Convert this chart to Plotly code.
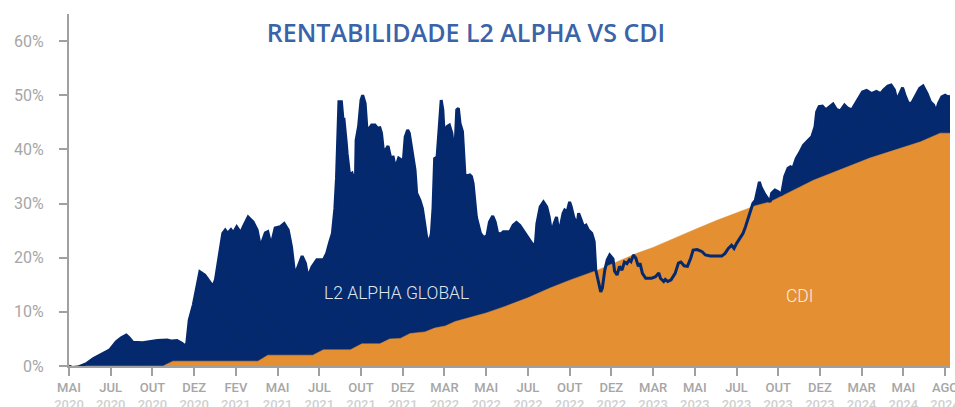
import plotly.graph_objects as go

# Business-day index (x) and accumulated return in % (y)
l2_dia = [0, 4, 11, 22, 30, 38, 50, 58, 64, 70, 73, 78, 90, 108, 120, 126, 132, 138, 142, 144, 147, 152, 159, 160,
          166, 174, 176, 179, 188, 191, 194, 198, 201, 205, 210, 213, 219, 225, 230, 234, 240, 243, 247, 252, 258,
          263, 268, 272, 276, 280, 285, 289, 292, 297, 303, 311, 315, 319, 322, 325, 327, 330, 333, 335, 336, 339,
          340, 343, 346, 348, 350, 351, 354, 357, 359, 362, 364, 366, 370, 374, 377, 380, 382, 384, 386, 390, 393,
          395, 396, 399, 403, 406, 408, 411, 414, 416, 419, 423, 425, 429, 432, 437, 440, 443, 445, 447, 450, 453,
          455, 457, 459, 462, 465, 468, 470, 472, 474, 476, 478, 481, 484, 486, 490, 492, 494, 496, 498, 503, 507,
          511, 514, 518, 521, 524, 528, 531, 539, 543, 547, 551, 555, 562, 566, 570, 572, 576, 580, 584, 587, 590,
          593, 596, 599, 604, 606, 609, 612, 614, 617, 621, 623, 626, 629, 632, 635, 639, 642, 644, 647, 650, 652,
          655, 658, 661, 665, 667, 670, 673, 676, 679, 682, 685, 687, 690, 693, 696, 698, 701, 705, 712, 717, 721,
          723, 727, 729, 732, 736, 741, 745, 748, 752, 756, 760, 763, 768, 774, 778, 784, 792, 798, 802, 806, 810,
          813, 816, 820, 824, 827, 829, 833, 836, 839, 841, 844, 846, 851, 857, 859, 863, 867, 871, 873, 875, 879,
          882, 885, 889, 894, 898, 904, 908, 912, 914, 917, 921, 925, 930, 934, 938, 943, 948, 952, 957, 962, 966,
          970, 975, 981, 987, 992, 996, 1001, 1005, 1009, 1012, 1016, 1019, 1022, 1026, 1030, 1034, 1040, 1044,
          1049, 1053, 1057, 1060, 1063, 1067, 1071, 1074, 1077]
l2_ret = [0, -0.3, -0.2, 0.5, 1.4, 2.0, 3.0, 4.5, 5.2, 5.7, 5.3, 4.4, 4.3, 4.7, 4.8, 4.6, 4.7, 4.2, 3.7, 4.2, 8.5,
          11.3, 16.8, 17.4, 16.8, 15.0, 14.7, 15.9, 24.5, 25.1, 24.5, 25.2, 24.6, 25.7, 24.6, 25.7, 27.5, 26.6, 25.1,
          22.0, 24.6, 24.8, 22.3, 25.5, 25.7, 26.3, 25.1, 22.0, 16.8, 18.3, 20.3, 19.0, 16.4, 18.3, 19.6, 19.6, 20.8,
          23.0, 24.5, 29.0, 34.6, 48.8, 48.8, 45.4, 45.8, 41.1, 39.2, 35.3, 35.6, 34.6, 32.5, 41.7, 44.2, 49.1, 50.0,
          48.5, 44.2, 43.6, 44.5, 44.5, 43.9, 44.0, 43.0, 40.2, 39.6, 40.6, 38.6, 36.2, 38.8, 36.5, 38.4, 38.1, 36.5,
          42.3, 43.6, 43.0, 40.2, 36.2, 31.9, 30.6, 29.1, 24.0, 22.5, 24.5, 29.1, 38.3, 38.6, 46.0, 49.1, 47.3, 41.7,
          44.2, 44.5, 43.0, 40.5, 40.5, 47.3, 47.6, 44.8, 43.3, 35.3, 35.1, 35.3, 35.0, 33.7, 30.6, 27.5, 24.5, 23.7,
          24.1, 26.6, 27.7, 26.6, 24.5, 24.4, 24.8, 24.8, 26.0, 26.5, 26.0, 25.1, 23.6, 22.6, 22.3, 26.3, 29.4, 30.3,
          29.4, 27.5, 24.5, 26.3, 27.5, 24.5, 28.2, 28.8, 28.5, 30.3, 29.4, 27.5, 26.0, 28.2, 27.0, 25.7, 26.0, 25.1,
          24.5, 23.0, 17.7, 15.9, 13.7, 14.4, 17.7, 19.6, 20.5, 19.8, 17.5, 16.8, 18.4, 17.7, 19.2, 18.9, 19.6, 19.3,
          20.5, 19.9, 18.4, 19.0, 17.1, 16.2, 16.2, 16.5, 17.2, 16.2, 15.6, 16.0, 15.6, 15.9, 17.1, 19.0, 19.2, 18.5,
          18.4, 19.9, 21.4, 21.5, 21.1, 20.5, 20.3, 20.3, 20.3, 20.8, 21.7, 22.3, 21.7, 22.6, 23.6, 24.5, 25.7, 26.6,
          28.8, 30.0, 30.6, 32.0, 34.0, 33.0, 31.6, 30.3, 31.9, 32.5, 32.2, 31.6, 33.1, 35.0, 36.5, 36.8, 36.5, 38.3,
          39.6, 40.8, 41.7, 42.3, 44.2, 46.9, 47.9, 48.0, 47.3, 47.9, 48.4, 47.4, 47.1, 48.2, 47.6, 47.3, 48.5, 49.4,
          50.6, 50.9, 50.3, 50.7, 50.3, 51.0, 51.7, 51.9, 51.0, 49.1, 50.3, 51.4, 50.0, 48.5, 48.5, 49.7, 51.3, 51.7,
          50.3, 48.8, 48.2, 47.0, 48.5, 49.7, 50.0, 49.7, 49.8]

cdi_dia = [0, 115, 127, 231, 243, 298, 311, 344, 358, 380, 392, 405, 417, 435, 447, 460, 472, 484, 510, 533, 561,
           588, 613, 646, 674, 694, 714, 735, 765, 792, 817, 839, 857, 910, 979, 1041, 1065, 1077]
cdi_ret = [0, 0, 0.9, 0.9, 2.0, 2.0, 3.0, 3.0, 4.1, 4.1, 5.0, 5.1, 6.0, 6.3, 7.0, 7.4, 8.2, 8.7, 9.8, 11.0, 12.6,
           14.4, 15.9, 17.7, 19.5, 20.8, 21.9, 23.3, 25.2, 26.9, 28.4, 29.6, 30.3, 34.3, 38.4, 41.4, 43.0, 43.0]

tick_meses = ["MAI", "JUL", "OUT", "DEZ", "FEV", "MAI", "JUL", "OUT", "DEZ", "MAR", "MAI",
              "JUL", "OUT", "DEZ", "MAR", "MAI", "JUL", "OUT", "DEZ", "MAR", "MAI", "AGO"]
tick_anos = ["2020", "2020", "2020", "2020", "2021", "2021", "2021", "2021", "2021", "2022", "2022",
             "2022", "2022", "2022", "2023", "2023", "2023", "2023", "2023", "2024", "2024", "2024"]
tick_passo = 51
y_ticks = [0, 10, 20, 30, 40, 50, 60]

NAVY = "#04296e"
ORANGE = "#e38f32"
GRAY = "#a0a0a0"
FONT = "Roboto, 'DejaVu Sans', sans-serif"

fig = go.Figure()

fig.add_trace(go.Scatter(
    x=l2_dia, y=l2_ret, mode="lines", fill="tozeroy",
    line=dict(color=NAVY, width=0.5), fillcolor=NAVY,
    fillpattern=dict(shape="\\", size=18, solidity=0.06, fgcolor="#0c2658", bgcolor=NAVY, fillmode="overlay"),
    hoverinfo="skip", showlegend=False))

fig.add_trace(go.Scatter(
    x=cdi_dia, y=cdi_ret, mode="lines", fill="tozeroy",
    line=dict(color=ORANGE, width=0.5), fillcolor=ORANGE,
    hoverinfo="skip", showlegend=False))

fig.add_trace(go.Scatter(
    x=l2_dia, y=l2_ret, mode="lines",
    line=dict(color=NAVY, width=3),
    hoverinfo="skip", showlegend=False))

tickvals = [i * tick_passo for i in range(len(tick_meses))]
ticktext = [f"{m}<br><span style='color:#d0d0d0'>{a}</span>" for m, a in zip(tick_meses, tick_anos)]

fig.update_layout(
    width=955, height=407,
    margin=dict(l=69, r=5, t=14, b=41, autoexpand=False),
    paper_bgcolor="white", plot_bgcolor="white",
    font=dict(family=FONT, color=GRAY),
    title=dict(text="RENTABILIDADE L2 ALPHA VS CDI", x=0.488, xanchor="center", y=0.919, yanchor="middle",
               font=dict(family="'Open Sans', 'DejaVu Sans', sans-serif", size=25, color="#3a63a8", weight=600)),
    xaxis=dict(range=[0, 1077], tickvals=tickvals, ticktext=ticktext, showgrid=False, zeroline=False,
               automargin=False, ticklabeloverflow="allow",
               showline=True, linecolor=GRAY, linewidth=2, ticks="outside", ticklen=8, tickwidth=2,
               tickcolor=GRAY, tickfont=dict(size=13, color="#a6a6a6", family=FONT, weight=500)),
    yaxis=dict(range=[0, 65], tickvals=y_ticks, ticktext=[f"{v}%" for v in y_ticks], showgrid=False,
               automargin=False,
               zeroline=False, showline=True, linecolor=GRAY, linewidth=2, ticks="outside", ticklen=8,
               tickwidth=2, tickcolor=GRAY, ticklabelstandoff=12,
               tickfont=dict(size=16, color="#a6a6a6", family=FONT)),
    annotations=[
        dict(x=400, y=13.5, xref="x", yref="y", text="L2 ALPHA GLOBAL", showarrow=False,
             font=dict(family=FONT, size=17.5, color="#dfe5ef", weight=300)),
        dict(x=894, y=12.9, xref="x", yref="y", text="CDI", showarrow=False,
             font=dict(family=FONT, size=17.5, color="#fbeee0", weight=300)),
    ],
)

fig.write_html("out.html", config={"displayModeBar": False},
               post_script="document.body.style.margin='0';document.body.style.overflow='hidden';")
